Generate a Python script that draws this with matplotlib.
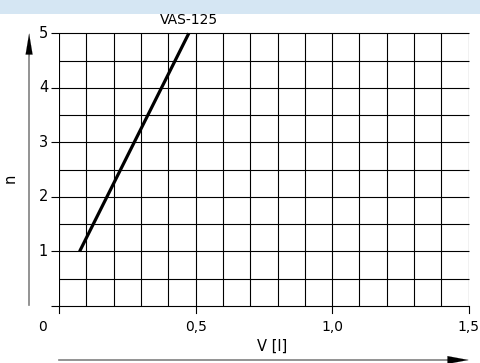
"""Pump stroke chart: number of strokes n against volume V"""
import numpy as np
import matplotlib.pyplot as plt

# characteristic line
volume = [0.075, 0.475]
strokes = [1, 5]
curve_name = "VAS-125"

x_ticks = [0.0, 0.5, 1.0, 1.5]
x_tick_labels = ["0", "0,5", "1,0", "1,5"]
y_ticks = [1, 2, 3, 4, 5]
y_tick_labels = ["1", "2", "3", "4", "5"]

W, H = 481, 363
fig = plt.figure(figsize=(W / 100, H / 100), dpi=100)
fig.patch.set_facecolor("white")

# light header band
fig.add_artist(plt.Rectangle((0, 1 - 14 / H), 1, 14 / H, transform=fig.transFigure,
                             color="#d5e6f3", lw=0, zorder=-5))

left, right, top, bottom = 59.1, 468.7, 33.3, 306.0
ax = fig.add_axes([left / W, 1 - bottom / H, (right - left) / W, (bottom - top) / H])
ax.set_xlim(0, 1.5)
ax.set_ylim(0, 5)
ax.axis("off")
ax.patch.set_alpha(0)

px_x = 1.5 / (right - left)   # data units per pixel
px_y = 5 / (bottom - top)
lw = 0.8

# grid
ax.vlines(np.arange(0, 1.501, 0.1), 0, 5, color="black", lw=lw)
for yv in np.arange(0, 5.001, 0.5):
    x0 = -8 * px_x if float(yv).is_integer() else 0
    ax.plot([x0, 1.5], [yv, yv], color="black", lw=lw, clip_on=False,
            solid_capstyle="butt")

# x ticks below the bottom line
for xv in x_ticks:
    ax.plot([xv, xv], [0, -7 * px_y], color="black", lw=lw, clip_on=False)
for xv, lab in zip(x_ticks, x_tick_labels):
    dx = -17 * px_x if xv == 0 else 0
    ax.text(xv + dx, -21 * px_y, lab, ha="center", va="center", fontsize=10)

for yv, lab in zip(y_ticks, y_tick_labels):
    ax.text(-11 * px_x, yv, lab, ha="right", va="center", fontsize=10.5)

# characteristic line
ax.plot(volume, strokes, color="black", lw=2.3, clip_on=False, solid_capstyle="butt")
ax.text(volume[1], 5 + 13 * px_y, curve_name, ha="center", va="center", fontsize=10)

# axis arrows
ya = -30 * px_x
ax.plot([ya, ya], [0.02, 5 - 20 * px_y], color="#808080", lw=1.2, clip_on=False)
ax.annotate("", xy=(ya, 5), xytext=(ya, 5 - 23 * px_y),
            arrowprops=dict(arrowstyle="-|>,head_length=1.5,head_width=0.25",
                            color="black", lw=0.1, shrinkA=0, shrinkB=0),
            annotation_clip=False)
ax.text(-49 * px_x, 2.35, "n", rotation=90, ha="center", va="center", fontsize=10.5)

xa = -54 * px_y
ax.plot([0, 1.5 - 20 * px_x], [xa, xa], color="#808080", lw=1.2, clip_on=False)
ax.annotate("", xy=(1.5, xa), xytext=(1.5 - 22 * px_x, xa),
            arrowprops=dict(arrowstyle="-|>,head_length=1.5,head_width=0.28",
                            color="black", lw=0.1, shrinkA=0, shrinkB=0),
            annotation_clip=False)
ax.text(0.78, -40 * px_y, "V [l]", ha="center", va="center", fontsize=10.5)

fig.savefig("out.png", dpi=100, facecolor="white")
